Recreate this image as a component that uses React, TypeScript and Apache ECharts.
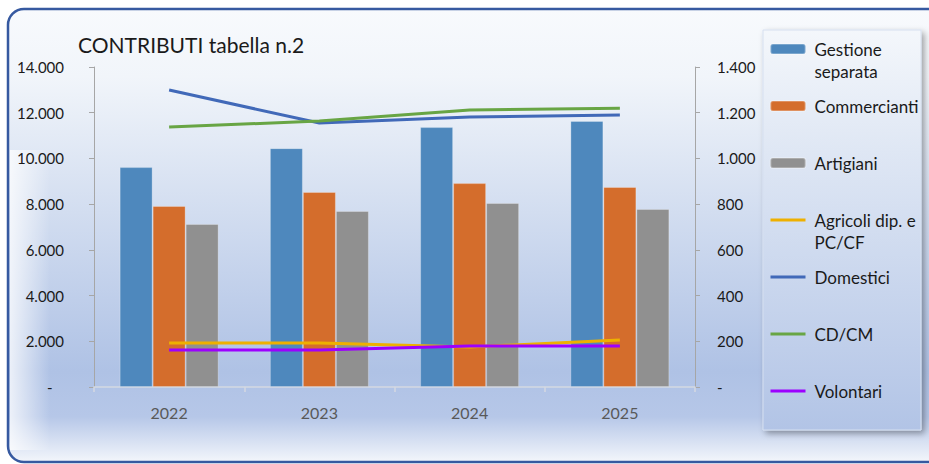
import React, { useEffect, useRef } from "react";
import * as echarts from "echarts";

const years = ["2022", "2023", "2024", "2025"];
const gestioneSeparata = [9620, 10450, 11370, 11640];
const commercianti = [7920, 8530, 8920, 8750];
const artigiani = [7130, 7700, 8050, 7790];
const agricoli = [192, 192, 175, 206];
const domestici = [1299, 1155, 1181, 1190];
const cdcm = [1137, 1164, 1212, 1220];
const volontari = [162, 162, 179, 179];

const leftTicks = { min: 0, max: 14000, interval: 2000 };
const rightTicks = { min: 0, max: 1400, interval: 200 };

const FONT = "Lato";

function fmt(n: number): string {
  if (n === 0) return "-";
  return String(n).replace(/\B(?=(\d{3})+(?!\d))/g, ".");
}

export default function App() {
  const ref = useRef<HTMLDivElement>(null);
  useEffect(() => {
    if (!ref.current) return;
    const chart = echarts.init(ref.current, undefined, { renderer: "svg" });
    const barNames = ["Gestione separata", "Commercianti", "Artigiani"];
    const lineSpec = [
      { name: "Agricoli dip. e PC/CF", data: agricoli, color: "#eeb000" },
      { name: "Domestici", data: domestici, color: "#4169b8" },
      { name: "CD/CM", data: cdcm, color: "#68a544" },
      { name: "Volontari", data: volontari, color: "#9c00ff" },
    ];
    const barColors = ["#4e88bd", "#d46d2c", "#909090"];
    const barData = [gestioneSeparata, commercianti, artigiani];

    const twoLine: Record<string, string> = {
      "Gestione separata": " \nGestione\nseparata",
      "Agricoli dip. e PC/CF": " \nAgricoli dip. e\nPC/CF",
    };
    const lineNames = lineSpec.map((l) => l.name);
    const allNames = [...barNames, ...lineNames];

    chart.setOption({
      animation: false,
      textStyle: { fontFamily: FONT },
      title: {
        text: "CONTRIBUTI tabella n.2",
        left: 73,
        top: 29,
        textStyle: { fontFamily: FONT, fontSize: 21, fontWeight: "normal", color: "#1a1a1a" },
      },
      graphic: [
        {
          type: "rect",
          z: -10,
          silent: true,
          shape: { x: 8, y: 9, width: 960, height: 453, r: 16 },
          style: {
            fill: new echarts.graphic.LinearGradient(0, 0, 0, 1, [
              { offset: 0, color: "#f8fafd" },
              { offset: 0.15, color: "#f1f5fa" },
              { offset: 0.45, color: "#d2ddf0" },
              { offset: 0.8, color: "#afc2e5" },
              { offset: 0.9, color: "#b6c7e8" },
              { offset: 1, color: "#f3f6fb" },
            ]),
            stroke: "#3659a0",
            lineWidth: 2.5,
          },
        },
        {
          type: "rect",
          z: -9,
          silent: true,
          shape: { x: 10, y: 150, width: 40, height: 300 },
          style: {
            fill: new echarts.graphic.LinearGradient(0, 0, 1, 0, [
              { offset: 0, color: "rgba(255,255,255,0.75)" },
              { offset: 1, color: "rgba(255,255,255,0)" },
            ]),
          },
        },
        {
          type: "rect",
          z: -8,
          silent: true,
          shape: { x: 763, y: 30, width: 158, height: 400 },
          style: {
            fill: new echarts.graphic.LinearGradient(0, 0, 0, 1, [
              { offset: 0, color: "#f4f7fb" },
              { offset: 0.3, color: "#dfe7f4" },
              { offset: 1, color: "#b2c4e6" },
            ]),
            stroke: "#d6e0f0",
            lineWidth: 1,
            shadowBlur: 6,
            shadowOffsetX: 3,
            shadowOffsetY: 3,
            shadowColor: "rgba(0,0,0,0.35)",
          },
        },
      ],
      legend: {
        orient: "vertical",
        left: 769,
        top: 16,
        padding: 0,
        itemGap: -9,
        itemWidth: 35,
        itemHeight: 10,
        selectedMode: false,
        formatter: (name: string) => twoLine[name] || name,
        textStyle: { fontFamily: FONT, fontSize: 17, color: "#1a1a1a", lineHeight: 22 },
        data: allNames.map((n) => {
          const item: any = {
            name: n,
            textStyle: { padding: twoLine[n] ? [0, 0, 0, 4] : [22, 0, 22, 4] },
          };
          if (lineNames.includes(n)) {
            item.itemStyle = { opacity: 0 };
            item.lineStyle = { width: 3 };
          }
          return item;
        }),
      },
      grid: { left: 94, right: 234, top: 67, bottom: 77, containLabel: false },
      xAxis: {
        type: "category",
        data: years,
        boundaryGap: true,
        axisLine: { lineStyle: { color: "#d4d9e2", width: 1.5 } },
        axisTick: { show: true, length: 5, lineStyle: { color: "#d4d9e2", width: 1.5 } },
        axisLabel: { margin: 17, fontSize: 16, color: "#595959", fontFamily: FONT },
      },
      yAxis: [
        {
          type: "value",
          ...leftTicks,
          position: "left",
          axisLine: { show: true, lineStyle: { color: "#a6a6a6" } },
          axisTick: { show: true, length: 5, lineStyle: { color: "#a6a6a6" } },
          splitLine: { show: false },
          axisLabel: {
            margin: 30,
            fontSize: 15,
            color: "#1a1a1a",
            fontFamily: FONT,
            formatter: (v: number) => (v === 0 ? "-   " : fmt(v)),
          },
        },
        {
          type: "value",
          ...rightTicks,
          position: "right",
          axisLine: { show: true, lineStyle: { color: "#a6a6a6" } },
          axisTick: { show: true, length: 5, lineStyle: { color: "#a6a6a6" } },
          splitLine: { show: false },
          axisLabel: {
            margin: 22,
            fontSize: 15,
            color: "#1a1a1a",
            fontFamily: FONT,
            formatter: (v: number) => fmt(v),
          },
        },
      ],
      series: [
        ...barNames.map((name, i) => ({
          name,
          type: "bar",
          yAxisIndex: 0,
          data: barData[i],
          barWidth: 33,
          barGap: "0%",
          itemStyle: { color: barColors[i], borderColor: "rgba(255,255,255,0.25)", borderWidth: 1 },
        })),
        ...lineSpec.map((l) => ({
          name: l.name,
          type: "line",
          yAxisIndex: 1,
          data: l.data,
          symbol: "none",
          z: 5,
          lineStyle: { color: l.color, width: 3 },
          itemStyle: { color: l.color },
        })),
      ],
    });
    return () => chart.dispose();
  }, []);
  return <div ref={ref} style={{ width: 929, height: 464, position: "absolute", left: 0, top: 0 }} />;
}
